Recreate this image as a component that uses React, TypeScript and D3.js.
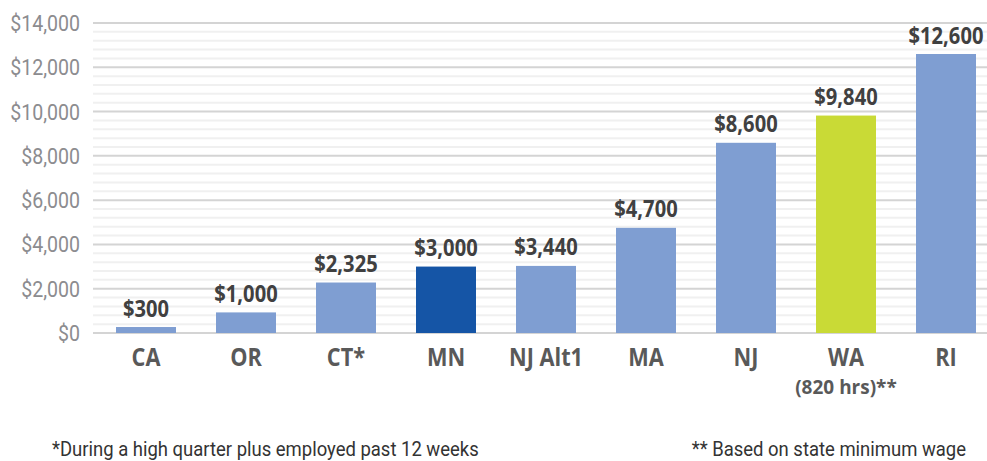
import * as React from 'react';
import * as d3 from 'd3';

// chart data
const states = ['CA', 'OR', 'CT*', 'MN', 'NJ Alt1', 'MA', 'NJ', 'WA', 'RI'];
const subLabels = ['', '', '', '', '', '', '', '(820 hrs)**', ''];
const barValues = [270, 930, 2280, 3000, 3030, 4750, 8590, 9820, 12600];
const valueLabels = ['$300', '$1,000', '$2,325', '$3,000', '$3,440', '$4,700', '$8,600', '$9,840', '$12,600'];
const barColors = ['#7f9ed2', '#7f9ed2', '#7f9ed2', '#1555a6', '#7f9ed2', '#7f9ed2', '#7f9ed2', '#c9da36', '#7f9ed2'];
const majorTicks = [0, 2000, 4000, 6000, 8000, 10000, 12000, 14000];
const minorTicks = d3.range(0, 14001, 400).filter(v => v % 2000 !== 0);
const footLeft = '*During a high quarter plus employed past 12 weeks';
const footRight = '** Based on state minimum wage';

const width = 987;
const height = 461;

// condensed text: horizontal squeeze around the anchor point
const Squeezed: React.FC<{
  x: number; y: number; k: number; anchor?: 'start' | 'middle' | 'end';
  size: number; weight?: string; fill: string; family?: string; children: React.ReactNode;
}> = ({ x, y, k, anchor = 'start', size, weight = 'normal', fill, family = 'Roboto', children }) => (
  <g transform={`translate(${x},${y}) scale(${k},1)`}>
    <text textAnchor={anchor} fontSize={size} fontWeight={weight} fill={fill} fontFamily={family}>
      {children}
    </text>
  </g>
);

const App: React.FC = () => {
  const x = d3.scaleBand<string>()
    .domain(states)
    .range([96, 996])
    .paddingInner(0.4)
    .paddingOuter(0.2);
  const y = d3.scaleLinear()
    .domain([0, 14000])
    .range([333, 23]);
  const fmt = (v: number) => '$' + d3.format(',')(v);

  return (
    <>
      <style>{`body{margin:0}`}</style>
      <svg width={width} height={height} style={{ display: 'block', background: '#fff' }}>
        {/* minor and major gridlines */}
        {minorTicks.map(t => (
          <line key={'m' + t} x1={93} x2={987} y1={y(t)} y2={y(t)} stroke="#f0f0f0" strokeWidth={2} />
        ))}
        {majorTicks.map(t => (
          <line key={'g' + t} x1={93} x2={987} y1={y(t)} y2={y(t)} stroke="#d4d4d4" strokeWidth={2} />
        ))}
        {majorTicks.map(t => (
          <Squeezed key={'t' + t} x={80} y={y(t) + 8} k={0.89} anchor="end" size={22} fill="#8c8c8f">
            {fmt(t)}
          </Squeezed>
        ))}

        {states.map((s, i) => {
          const bx = x(s)!;
          const cx = bx + x.bandwidth() / 2;
          return (
            <g key={s}>
              <rect x={bx} y={y(barValues[i])} width={x.bandwidth()} height={y(0) - y(barValues[i])} fill={barColors[i]} />
              <Squeezed x={cx} y={y(barValues[i]) - 10.5} k={0.84} anchor="middle" size={24} weight="bold" fill="#404040" family="Open Sans">
                {valueLabels[i]}
              </Squeezed>
              <Squeezed x={cx} y={366} k={0.87} anchor="middle" size={25} weight="bold" fill="#595959" family="Open Sans">
                {s}
              </Squeezed>
              {subLabels[i] && (
                <Squeezed x={cx} y={394} k={0.95} anchor="middle" size={20} weight="bold" fill="#595959" family="Open Sans">
                  {subLabels[i]}
                </Squeezed>
              )}
            </g>
          );
        })}

        <Squeezed x={52} y={456} k={0.88} size={21} fill="#333">{footLeft}</Squeezed>
        <Squeezed x={966} y={456} k={0.88} anchor="end" size={21} fill="#333">{footRight}</Squeezed>
      </svg>
    </>
  );
};

export default App;
